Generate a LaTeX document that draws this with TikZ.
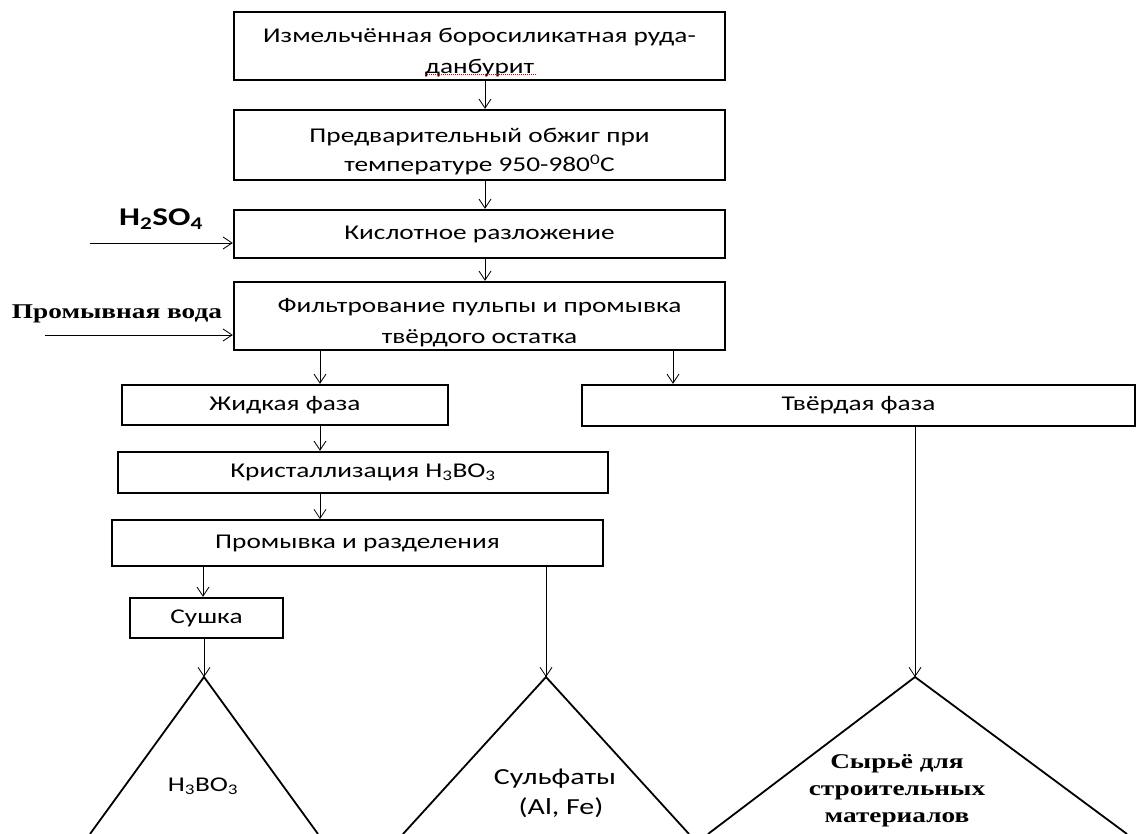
\documentclass[tikz,border=0pt]{standalone}
\usepackage{fontspec}
\setmainfont{Carlito}[FakeStretch=1.3]
\newfontfamily\tnr{Liberation Serif}[FakeStretch=1.3]
\usetikzlibrary{arrows.meta}
\newcommand\topstrut{\rule{0pt}{28pt}}
\begin{document}
\begin{tikzpicture}[x=1pt,y=-1pt,
  box/.style={draw,line width=2.4pt,inner sep=0pt,align=center,font=\fontsize{21}{31}\selectfont},
  arr/.style={-{Straight Barb[length=9pt,width=12pt]},line width=0.8pt},
  tri/.style={line width=1.8pt},
  lbl/.style={inner sep=0pt,align=center}]
\useasboundingbox (0,0) rectangle (1138,834);
% boxes
\node[box,minimum width=491pt,minimum height=68pt] (b1) at (479.5,46) {\topstrut Измельчённая боросиликатная руда-\\данбурит};
\node[box,minimum width=491pt,minimum height=70pt,font=\fontsize{21}{29}\selectfont] (b2) at (479.5,145) {\topstrut Предварительный обжиг при\\температуре 950-980\textsuperscript{0}C};
\node[box,minimum width=491pt,minimum height=48pt] (b3) at (479.5,234) {Кислотное разложение};
\node[box,minimum width=491pt,minimum height=68pt] (b4) at (479.5,316) {\topstrut Фильтрование пульпы и промывка\\твёрдого остатка};
\node[box,minimum width=326pt,minimum height=40pt] (zh) at (285,405) {Жидкая фаза};
\node[box,minimum width=553pt,minimum height=41pt] (tv) at (858.5,405.5) {Твёрдая фаза};
\node[box,minimum width=490pt,minimum height=41pt] (kr) at (363,472.5) {Кристаллизация H\textsubscript{3}BO\textsubscript{3}};
\node[box,line width=1.8pt,minimum width=491pt,minimum height=46pt] (pr) at (357.5,543) {Промывка и разделения};
\node[box,minimum width=153pt,minimum height=40pt] (su) at (206.5,618) {Сушка};
% spell-check underline
\draw[red!85!black,densely dotted,line width=1pt] ([xshift=-55pt,yshift=7pt]b1.south) -- ([xshift=57pt,yshift=7pt]b1.south);
% side inputs
\node[lbl,font=\fontsize{25.5}{28}\selectfont\bfseries] (h2) at (161,219) {H\textsubscript{2}SO\textsubscript{4}};
\node[lbl,font=\tnr\fontsize{21}{24}\selectfont\bfseries] (wl) at (117,314) {Промывная вода};
\coordinate (s1) at (90,243);
\coordinate (s2) at (45,335);
\draw[arr] (s1) -- (b3.west |- s1);
\draw[arr] (s2) -- (b4.west |- s2);
% helper x positions
\coordinate (xa) at (485,0);
\coordinate (xb) at (320,0);
\coordinate (xc) at (673,0);
\coordinate (xd) at (203,0);
\draw[arr] (b1.south -| xa) -- (b2.north -| xa);
\draw[arr] (b2.south -| xa) -- (b3.north -| xa);
\draw[arr] (b3.south -| xa) -- (b4.north -| xa);
\draw[arr] (b4.south -| xb) -- (zh.north -| xb);
\draw[arr] (b4.south -| xc) -- (tv.north -| xc);
\draw[arr] (zh.south -| xb) -- (kr.north -| xb);
\draw[arr] (kr.south -| xb) -- (pr.north -| xb);
\draw[arr] (pr.south -| xd) -- (su.north -| xd);
% triangles
\coordinate (t1) at (204,677);
\coordinate (t2) at (546,677);
\coordinate (t3) at (915,677);
\draw[tri] (90,834) -- (t1) -- (318,834);
\draw[tri] (403,834) -- (t2) -- (689,834);
\draw[tri] (708,834) -- (t3) -- (1127,834);
\draw[arr] (su.south -| t1) -- (t1);
\draw[arr] (pr.south -| t2) -- (t2);
\draw[arr] (tv.south -| t3) -- (t3);
% triangle labels
\node[lbl,font=\fontsize{21}{30}\selectfont] (l1) at (203,786) {H\textsubscript{3}BO\textsubscript{3}};
\node[lbl,font=\fontsize{23}{30}\selectfont] (l2) at (555,793) {Сульфаты\\\hspace*{12pt}(Al, Fe)};
\node[lbl,font=\tnr\fontsize{21}{27}\selectfont\bfseries] (l3) at (897,791) {Сырьё для\\строительных\\материалов};
\end{tikzpicture}
\end{document}
